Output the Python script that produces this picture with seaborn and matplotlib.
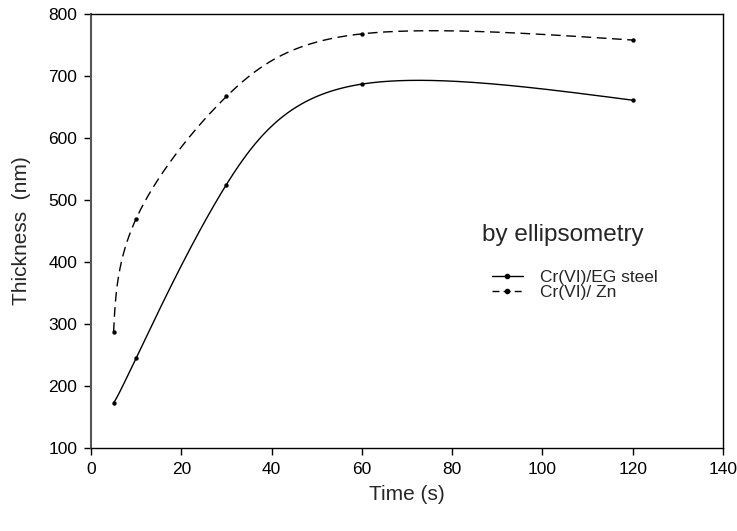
import numpy as np
import pandas as pd
import matplotlib
matplotlib.use("Agg")
import matplotlib.pyplot as plt
import seaborn as sns
from matplotlib.lines import Line2D

time_s = [5, 10, 30, 60, 120]
eg_steel = [173, 245, 525, 687, 661]
zn = [287, 470, 667, 768, 758]
series_names = ["Cr(VI)/EG steel", "Cr(VI)/ Zn"]
legend_title = "by ellipsometry"


def natural_coeffs(t, v):
    k = len(t)
    h = np.diff(t)
    A = np.zeros((k, k))
    b = np.zeros(k)
    A[0, 0] = 1
    A[-1, -1] = 1
    for i in range(1, k - 1):
        A[i, i - 1] = h[i - 1]
        A[i, i] = 2 * (h[i - 1] + h[i])
        A[i, i + 1] = h[i]
        b[i] = 6 * ((v[i + 1] - v[i]) / h[i] - (v[i] - v[i - 1]) / h[i - 1])
    return np.linalg.solve(A, b)


def eval_spline(t, v, M, ts):
    k = len(t)
    idx = np.clip(np.searchsorted(t, ts) - 1, 0, k - 2)
    t0, t1 = t[idx], t[idx + 1]
    hh = t1 - t0
    a = t1 - ts
    c = ts - t0
    return (M[idx] * a**3 / (6 * hh) + M[idx + 1] * c**3 / (6 * hh)
            + (v[idx] / hh - M[idx] * hh / 6) * a
            + (v[idx + 1] / hh - M[idx + 1] * hh / 6) * c)


def parametric_spline(x, y, n=600):
    # natural cubic spline through the points, uniform parameter
    px = np.asarray(x, float)
    py = np.asarray(y, float)
    t = np.arange(len(px), dtype=float)
    Mx = natural_coeffs(t, px)
    My = natural_coeffs(t, py)
    ts = np.linspace(0, t[-1], n)
    return eval_spline(t, px, Mx, ts), eval_spline(t, py, My, ts)


sns.set_style("white")
plt.rcParams['font.family'] = ['Liberation Sans', 'DejaVu Sans']

fig = plt.figure(figsize=(7.37, 5.31), dpi=100)
ax = fig.add_axes([0.1235, 0.1563, 0.8575, 0.8173])

styles = ["-", (0, (7, 4))]
for vals, ls in zip([eg_steel, zn], styles):
    xs, ys = parametric_spline(time_s, vals)
    sns.lineplot(x=xs, y=ys, ax=ax, color="black", lw=1.0, linestyle=ls,
                 sort=False, estimator=None)
    sns.scatterplot(x=time_s, y=vals, ax=ax, color="black", s=10,
                    edgecolor="black", linewidth=0, zorder=3)

ax.set_xlim(0, 140)
ax.set_ylim(100, 800)
ax.set_xticks(np.arange(0, 141, 20))
ax.set_yticks(np.arange(100, 801, 100))
ax.tick_params(axis="both", direction="out", length=5, width=1,
               labelsize=12.5, colors="black", left=True, bottom=True, pad=5)
for sp in ax.spines.values():
    sp.set_color("black")
    sp.set_linewidth(1.0)
ax.spines["left"].set_color("#555555")
ax.spines["left"].set_linewidth(1.5)
ax.set_xlabel("Time (s)", fontsize=15, labelpad=6)
ax.set_ylabel("Thickness  (nm)", fontsize=15, labelpad=12)

ax.text(0.619, 0.478, legend_title, transform=ax.transAxes, fontsize=17.5,
        ha="left", va="baseline")
handles = [Line2D([], [], color="black", lw=1.0, linestyle=ls, marker="o",
                  markersize=3) for ls in ["-", (0, (5, 3))]]
ax.legend(handles, series_names, frameon=False, fontsize=12.5,
          loc="upper left", bbox_to_anchor=(0.634, 0.41),
          borderpad=0, borderaxespad=0,
          handlelength=1.8, labelspacing=0.0, handletextpad=1.0)

fig.savefig("out.png", dpi=100)
